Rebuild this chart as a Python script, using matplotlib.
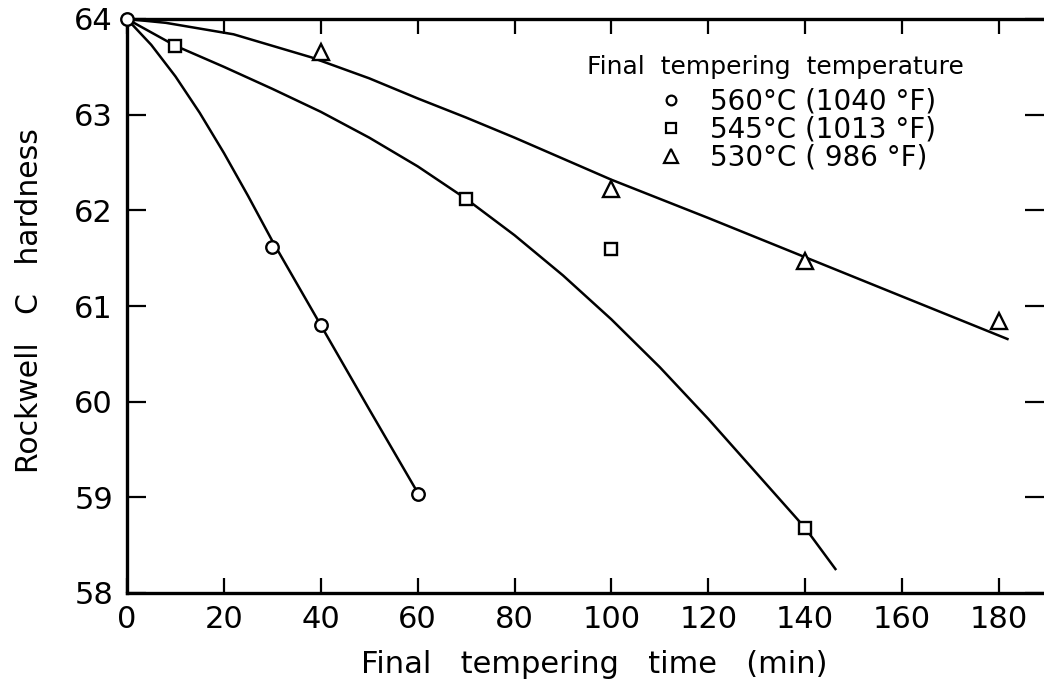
"""Rockwell C hardness vs final tempering time for three tempering temperatures."""
import matplotlib
matplotlib.use('Agg')
import matplotlib.pyplot as plt
from matplotlib.lines import Line2D

# Measured points (time in min, hardness HRC)
t_560 = [0, 30, 40, 60]
h_560 = [64.0, 61.62, 60.8, 59.03]
t_545 = [10, 70, 100, 140]
h_545 = [63.72, 62.12, 61.6, 58.68]
t_530 = [40, 100, 140, 180]
h_530 = [63.66, 62.22, 61.47, 60.84]

# Hand-drawn fit curves
curve_t_560 = [0, 5, 10, 15, 20, 25, 30, 35, 40, 50, 60]
curve_h_560 = [64.0, 63.73, 63.4, 63.02, 62.6, 62.15, 61.68, 61.24, 60.8, 59.92, 59.05]
curve_t_545 = [0, 10, 20, 30, 40, 50, 60, 70, 80, 90, 100, 110, 120, 130, 140, 146.4]
curve_h_545 = [64.0, 63.72, 63.5, 63.27, 63.03, 62.76, 62.46, 62.12, 61.74, 61.32,
               60.86, 60.36, 59.82, 59.25, 58.68, 58.24]
curve_t_530 = [0, 8, 22, 38, 50, 60, 70, 80, 90, 100, 120, 140, 160, 182]
curve_h_530 = [64.0, 63.96, 63.84, 63.6, 63.38, 63.17, 62.97, 62.76, 62.54, 62.32,
               61.92, 61.51, 61.1, 60.65]

labels = ['560°C (1040 °F)', '545°C (1013 °F)', '530°C ( 986 °F)']
x_ticks = [0, 20, 40, 60, 80, 100, 120, 140, 160, 180]
y_ticks = [58, 59, 60, 61, 62, 63, 64]

plt.rcParams['font.family'] = ['DejaVu Sans']

fig = plt.figure(figsize=(10.44, 6.84), dpi=100)
ax = fig.add_axes([127 / 1044, 1 - 593 / 684, 1 - 127 / 1044, (593 - 19) / 684])

# Curves
for ct, ch in [(curve_t_560, curve_h_560), (curve_t_545, curve_h_545), (curve_t_530, curve_h_530)]:
    ax.plot(ct, ch, color='black', linewidth=1.8, solid_capstyle='butt',
            solid_joinstyle='round', zorder=2)

# Data markers (white filled so the curve breaks at each point)
ax.plot(t_560, h_560, linestyle='none', marker='o', markersize=9, markerfacecolor='white',
        markeredgecolor='black', markeredgewidth=1.7, clip_on=False, zorder=3)
ax.plot(t_545, h_545, linestyle='none', marker='s', markersize=8.5, markerfacecolor='white',
        markeredgecolor='black', markeredgewidth=1.7, clip_on=False, zorder=3)
ax.plot(t_530, h_530, linestyle='none', marker='^', markersize=11, markerfacecolor='white',
        markeredgecolor='black', markeredgewidth=1.7, clip_on=False, zorder=3)

ax.set_xlim(0, (1044 - 127) / 4.844)
ax.set_ylim(58, 64)
ax.set_xticks(x_ticks)
ax.set_yticks(y_ticks)
ax.tick_params(direction='in', width=1.6, labelsize=22, top=True, right=True)
ax.tick_params(axis='x', length=11, pad=9)
ax.tick_params(axis='y', length=14, pad=10)
for side in ['left', 'bottom', 'top']:
    ax.spines[side].set_linewidth(2.4)
ax.spines['right'].set_visible(False)

ax.set_xlabel('Final   tempering   time   (min)', fontsize=22)
ax.xaxis.set_label_coords(0.509, -0.099)
ax.set_ylabel('Rockwell   C   hardness', fontsize=21.5)
ax.yaxis.set_label_coords(-0.091, 0.51)

# Legend
ax.text(0.502, 0.916, 'Final  tempering  temperature', transform=ax.transAxes,
        fontsize=18, ha='left', va='center')
handles = [
    Line2D([], [], linestyle='none', marker='o', markersize=7, markerfacecolor='white',
           markeredgecolor='black', markeredgewidth=1.6),
    Line2D([], [], linestyle='none', marker='s', markersize=7.5, markerfacecolor='white',
           markeredgecolor='black', markeredgewidth=1.6),
    Line2D([], [], linestyle='none', marker='^', markersize=10, markerfacecolor='white',
           markeredgecolor='black', markeredgewidth=1.6),
]
ax.legend(handles, labels, loc='upper left', bbox_to_anchor=(0.578, 0.88),
          frameon=False, fontsize=20, handlelength=1.0, handletextpad=0.9,
          labelspacing=0.0, borderpad=0, borderaxespad=0)

fig.savefig('out.png', dpi=100)
